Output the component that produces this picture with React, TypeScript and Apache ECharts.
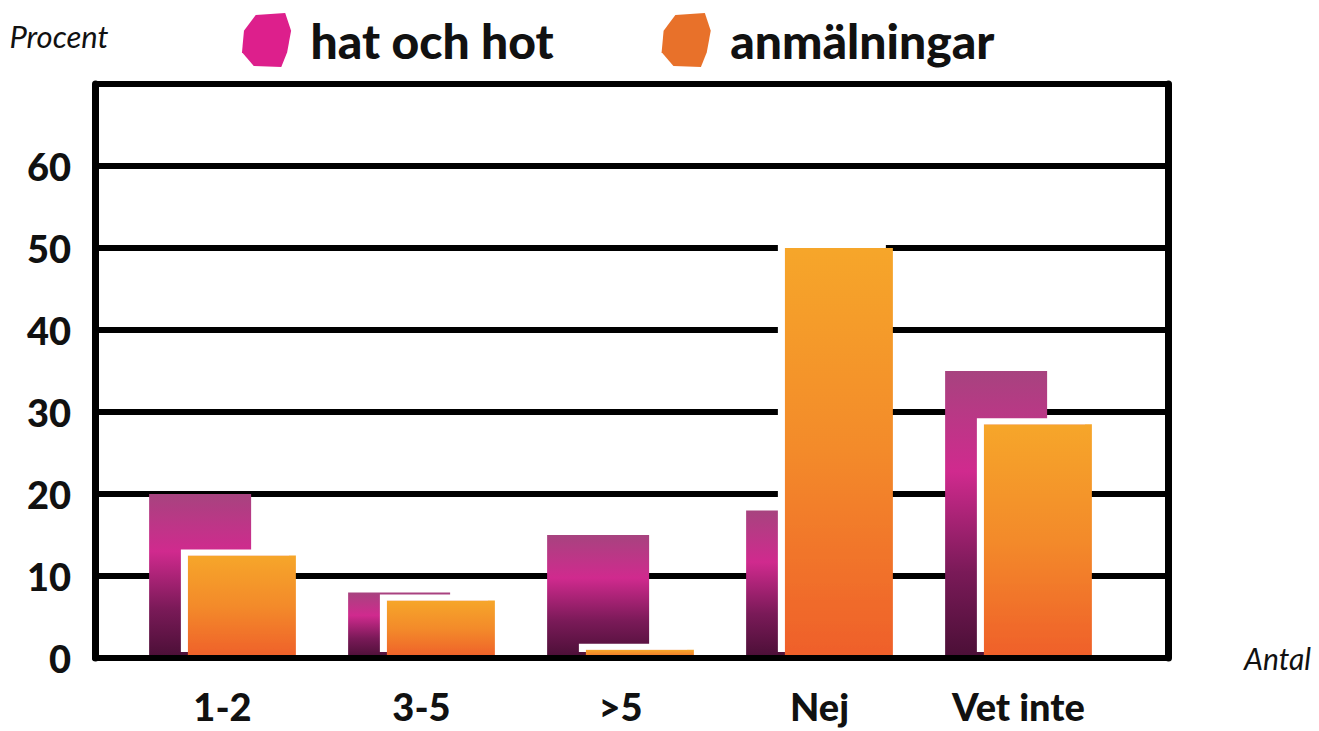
import React, { useEffect, useRef } from "react";
import * as echarts from "echarts";

const categories = ["1-2", "3-5", ">5", "Nej", "Vet inte"];
const hatOchHot = [20, 8, 15, 18, 35];
const anmalningar = [12.5, 7, 1, 50, 28.5];
const yTicks = [0, 10, 20, 30, 40, 50, 60, 70];
const seriesNames = ["hat och hot", "anmälningar"];

const FONT = "Lato, 'DejaVu Sans', sans-serif";
const BLOB = "path://M14,2 L44,0 L50,18 L46,40 L40,55 L12,54 L0,40 L2,18 Z";

export default function App() {
  const ref = useRef<HTMLDivElement>(null);
  useEffect(() => {
    if (!ref.current) return;
    document.body.style.margin = "0";
    document.body.style.overflow = "hidden";
    const chart = echarts.init(ref.current, undefined, { renderer: "svg" });
    const pinkGrad = new echarts.graphic.LinearGradient(0, 0, 0, 1, [
      { offset: 0, color: "#a7437f" },
      { offset: 0.35, color: "#d02a8e" },
      { offset: 0.7, color: "#7a1a58" },
      { offset: 1, color: "#4a0f36" },
    ]);
    const orangeGrad = new echarts.graphic.LinearGradient(0, 0, 0, 1, [
      { offset: 0, color: "#f6a62a" },
      { offset: 0.5, color: "#f38a2a" },
      { offset: 1, color: "#ef5f2a" },
    ]);
    chart.setOption({
      animation: false,
      backgroundColor: "#ffffff",
      legend: {
        left: 237,
        top: 8,
        itemWidth: 50,
        itemHeight: 54,
        itemGap: 108,
        icon: BLOB,
        textStyle: { fontFamily: FONT, fontWeight: 900, fontSize: 48, color: "#111", padding: [0, 0, 0, 14] },
        data: [
          { name: seriesNames[0], itemStyle: { color: "#dd1f8c" } },
          { name: seriesNames[1], itemStyle: { color: "#e8712a" } },
        ],
      },
      grid: [
        { left: 95, right: 151, top: 84, bottom: 73, outerBoundsMode: "none" },
        { left: 123, width: 995, top: 84, bottom: 73, outerBoundsMode: "none" },
      ],
      xAxis: [
        {
          gridIndex: 0,
          type: "value",
          min: 0,
          max: 1,
          z: 10,
          axisLine: { show: true, onZero: false, lineStyle: { color: "#000", width: 6 } },
          axisTick: { show: false },
          axisLabel: { show: false },
          splitLine: { show: false },
          name: "Antal",
          nameLocation: "end",
          nameGap: 76,
          nameTextStyle: { fontFamily: FONT, fontStyle: "italic", fontSize: 30, color: "#111", verticalAlign: "middle", padding: [6, 0, 0, 0] },
        },
        {
          gridIndex: 1,
          type: "category",
          data: categories,
          axisLine: { show: false },
          axisTick: { show: false },
          axisLabel: { fontFamily: FONT, fontWeight: 900, fontSize: 38, lineHeight: 40, color: "#111", margin: 28 },
        },
      ],
      yAxis: [
        {
          gridIndex: 0,
          type: "value",
          min: yTicks[0],
          max: yTicks[yTicks.length - 1],
          interval: 10,
          axisLine: { show: true, lineStyle: { color: "#000", width: 7 } },
          axisTick: { show: false },
          axisLabel: {
            fontFamily: FONT,
            fontWeight: 900,
            fontSize: 38,
            color: "#111",
            margin: 24,
            formatter: (v: number) => (v >= 70 ? "" : String(v)),
          },
          splitLine: { show: true, lineStyle: { color: "#000", width: 6 } },
          name: "Procent",
          nameLocation: "end",
          nameGap: 33,
          nameTextStyle: { fontFamily: FONT, fontStyle: "italic", fontSize: 31, color: "#111", align: "center", padding: [0, 0, 0, -72] },
        },
        {
          gridIndex: 0,
          type: "value",
          position: "right",
          min: 0,
          max: 70,
          interval: 10,
          axisLine: { show: true, lineStyle: { color: "#000", width: 7 } },
          axisTick: { show: false },
          axisLabel: { show: false },
          splitLine: { show: false },
        },
        {
          gridIndex: 1,
          type: "value",
          min: 0,
          max: 70,
          interval: 10,
          show: false,
        },
      ],
      series: [
        {
          name: seriesNames[0],
          type: "bar",
          xAxisIndex: 1,
          yAxisIndex: 2,
          data: hatOchHot,
          barWidth: 102,
          barGap: "-62%",
          itemStyle: { color: pinkGrad },
        },
        {
          name: seriesNames[1],
          type: "bar",
          xAxisIndex: 1,
          yAxisIndex: 2,
          data: anmalningar,
          barWidth: 108,
          barGap: "-62%",
          itemStyle: {
            color: orangeGrad,
            shadowColor: "#ffffff",
            shadowBlur: 0,
            shadowOffsetX: -7,
            shadowOffsetY: -6,
          },
        },
      ],
    });
    return () => chart.dispose();
  }, []);
  return <div ref={ref} style={{ width: 1319, height: 731 }} />;
}
